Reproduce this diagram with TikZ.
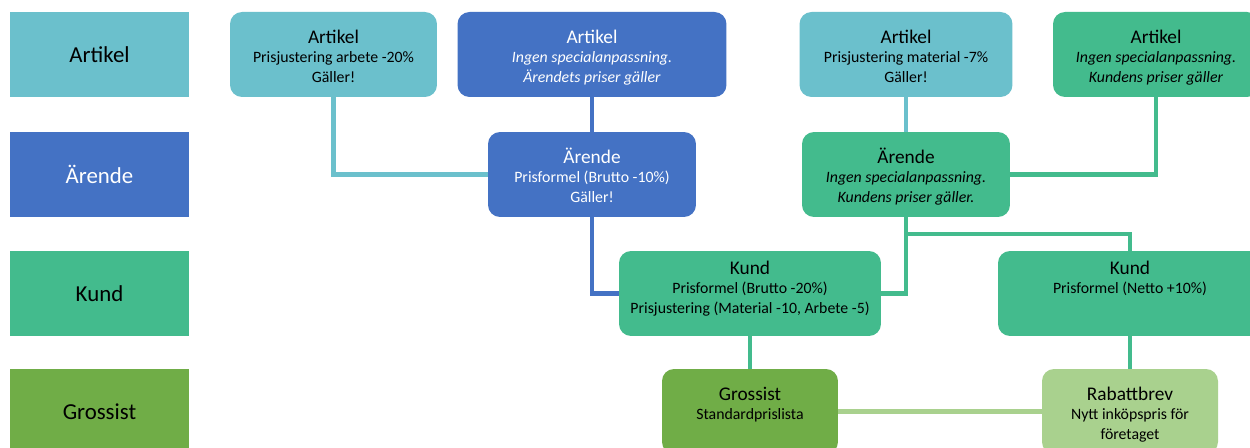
\documentclass[tikz,border=0pt]{standalone}
\usepackage{fontspec}
\setmainfont{Carlito}
\usetikzlibrary{positioning}
\definecolor{artikelc}{RGB}{107,192,204}
\definecolor{arendec}{RGB}{68,114,196}
\definecolor{kundc}{RGB}{67,187,141}
\definecolor{grossistc}{RGB}{112,173,71}
\definecolor{rabattc}{RGB}{169,209,142}
\tikzset{
	legend/.style={rectangle, minimum width=3.58cm, minimum height=1.7cm, inner sep=0pt, font=\fontsize{13}{15}\selectfont},
	box/.style={rectangle, rounded corners=0.24cm, minimum height=1.7cm, inner sep=0pt},
	boxtext/.style={align=center, inner sep=0pt, font=\fontsize{9}{11}\selectfont},
	link/.style={line width=2.6pt},
}
\newcommand{\boxtitle}[1]{{\fontsize{11}{11}\selectfont #1}}
\begin{document}
\begin{tikzpicture}[x=0.02cm, y=-0.02cm]
				\useasboundingbox[fill=white] (0,0) rectangle (1250,448);
				
				% legend
				\node[legend, fill=artikelc](lartikel) at (99.5,54.5) {Artikel};
				\node[legend, fill=arendec, text=white](larende) at (99.5,174.5) {Ärende};
				\node[legend, fill=kundc](lkund) at (99.5,293.5) {Kund};
				\node[legend, fill=grossistc](lgrossist) at (99.5,411.5) {Grossist};
				
				% boxes
				\node[box, fill=artikelc, minimum width=4.14cm](artarbete) at (333.5,54.5) {};
				\node[box, fill=arendec, minimum width=5.38cm](artingen1) at (592,54.5) {};
				\node[box, fill=artikelc, minimum width=4.26cm](artmaterial) at (906,54.5) {};
				\node[box, fill=kundc, minimum width=4.12cm](artingen2) at (1156,54.5) {};
				\node[box, fill=arendec, minimum width=4.16cm](arende1) at (592,174.5) {};
				\node[box, fill=kundc, minimum width=4.16cm](arende2) at (906,174.5) {};
				\node[box, fill=kundc, minimum width=5.24cm](kund1) at (750,293.5) {};
				\node[box, fill=kundc, minimum width=5.28cm](kund2) at (1130,293.5) {};
				\node[box, fill=grossistc, minimum width=3.52cm](grossist) at (750,411.5) {};
				\node[box, fill=rabattc, minimum width=3.52cm](rabatt) at (1130,411.5) {};
				
				% texts
				\node[boxtext, below=0.36cm of artarbete.north](artarbetetxt) {\boxtitle{Artikel}\\Prisjustering arbete -20\%\\Gäller!};
				\node[boxtext, text=white, below=0.36cm of artingen1.north](artingen1txt) {\boxtitle{Artikel}\\\textit{Ingen specialanpassning.}\\\textit{Ärendets priser gäller}};
				\node[boxtext, below=0.36cm of artmaterial.north](artmaterialtxt) {\boxtitle{Artikel}\\Prisjustering material -7\%\\Gäller!};
				\node[boxtext, below=0.36cm of artingen2.north](artingen2txt) {\boxtitle{Artikel}\\\textit{Ingen specialanpassning.}\\\textit{Kundens priser gäller}};
				\node[boxtext, text=white, below=0.32cm of arende1.north](arende1txt) {\boxtitle{Ärende}\\Prisformel (Brutto -10\%)\\Gäller!};
				\node[boxtext, below=0.32cm of arende2.north](arende2txt) {\boxtitle{Ärende}\\\textit{Ingen specialanpassning.}\\\textit{Kundens priser gäller.}};
				\node[boxtext, below=0.2cm of kund1.north](kund1txt) {\boxtitle{Kund}\\Prisformel (Brutto -20\%)\\Prisjustering (Material -10, Arbete -5)};
				\node[boxtext, below=0.2cm of kund2.north](kund2txt) {\boxtitle{Kund}\\Prisformel (Netto +10\%)};
				\node[boxtext, below=0.36cm of grossist.north](grossisttxt) {\boxtitle{Grossist}\\Standardprislista};
				\node[boxtext, below=0.36cm of rabatt.north](rabatttxt) {\boxtitle{Rabattbrev}\\Nytt inköpspris för\\företaget};
				
				% links
				\coordinate[](split) at (906,234);
				\draw[link, artikelc] (artarbete.south) |- (arende1.west);
				\draw[link, arendec] (artingen1.south) -- (arende1.north);
				\draw[link, arendec] (arende1.south) |- (kund1.west);
				\draw[link, artikelc] (artmaterial.south) -- (arende2.north);
				\draw[link, kundc] (artingen2.south) |- (arende2.east);
				\draw[link, kundc] (arende2.south) |- (kund1.east);
				\draw[link, kundc] (split) -| (kund2.north);
				\draw[link, kundc] (kund1.south) -- (grossist.north);
				\draw[link, kundc] (kund2.south) -- (rabatt.north);
				\draw[link, rabattc] (grossist.east) -- (rabatt.west);
\end{tikzpicture}
\end{document}
